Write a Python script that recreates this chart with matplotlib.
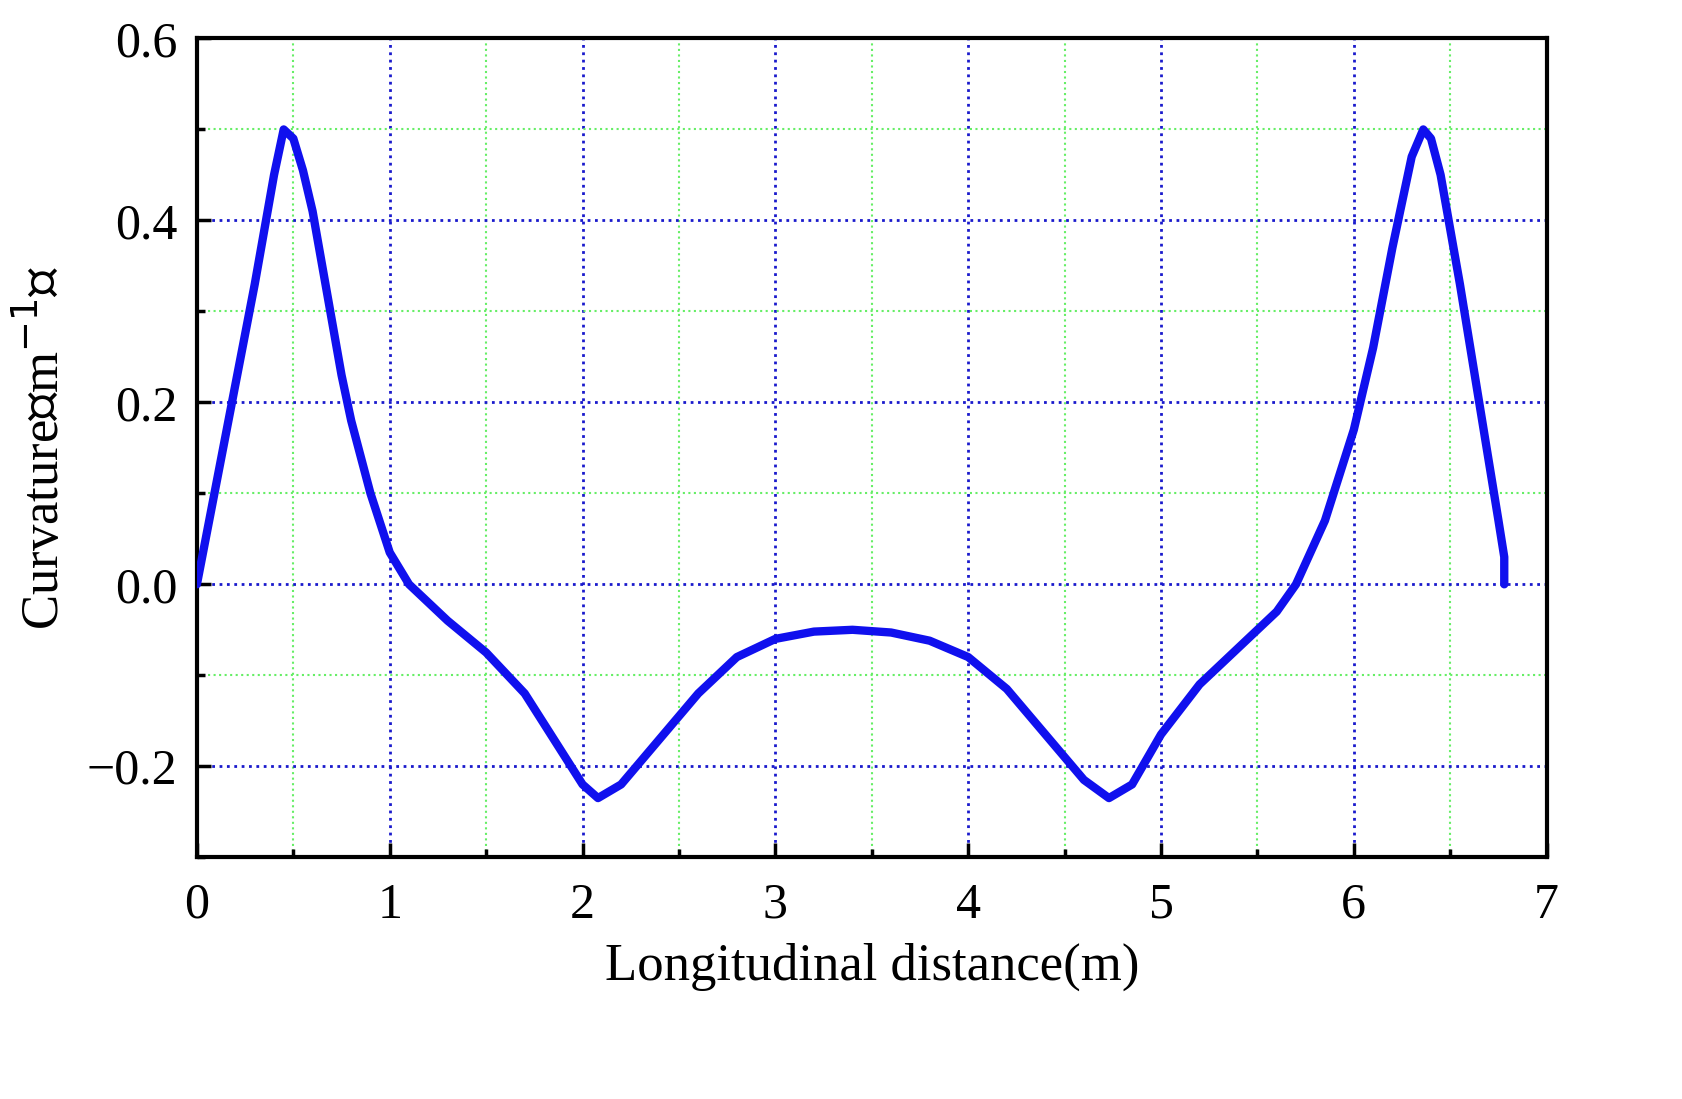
import matplotlib
matplotlib.use("Agg")
import matplotlib.pyplot as plt
from matplotlib.ticker import MultipleLocator

x = [0, 0.1, 0.2, 0.3, 0.4, 0.45, 0.5, 0.55, 0.6, 0.65, 0.7, 0.75, 0.8, 0.9, 1.0, 1.1, 1.2, 1.3, 1.5, 1.7,
     1.85, 2.0, 2.08, 2.2, 2.4, 2.6, 2.8, 3.0, 3.2, 3.4, 3.6, 3.8, 4.0, 4.2, 4.4, 4.6, 4.73, 4.85, 5.0,
     5.2, 5.4, 5.6, 5.7, 5.85, 6.0, 6.1, 6.2, 6.3, 6.36, 6.4, 6.45, 6.55, 6.65, 6.75, 6.78, 6.78]
y = [0, 0.11, 0.22, 0.33, 0.45, 0.5, 0.49, 0.455, 0.41, 0.35, 0.29, 0.23, 0.18, 0.1, 0.035, 0.0, -0.02,
     -0.04, -0.075, -0.12, -0.17, -0.22, -0.235, -0.22, -0.17, -0.12, -0.08, -0.06, -0.052, -0.05, -0.053,
     -0.062, -0.08, -0.115, -0.165, -0.215, -0.235, -0.22, -0.165, -0.11, -0.07, -0.03, 0.0, 0.07, 0.17,
     0.26, 0.37, 0.47, 0.5, 0.49, 0.45, 0.33, 0.2, 0.07, 0.03, 0.0]

plt.rcParams['font.family'] = ['Liberation Serif', 'Noto Sans CJK SC']
fig = plt.figure(figsize=(16.83, 10.99), dpi=100)
ax = fig.add_axes([0.117, 0.22, 0.802, 0.745])
ax.set_xlim(0, 7)
ax.set_ylim(-0.3, 0.6)
ax.xaxis.set_major_locator(MultipleLocator(1))
ax.xaxis.set_minor_locator(MultipleLocator(0.5))
ax.yaxis.set_major_locator(MultipleLocator(0.2))
ax.yaxis.set_minor_locator(MultipleLocator(0.1))
ax.grid(which='minor', color='#66ee66', linestyle=':', linewidth=1.5)
ax.grid(which='major', color='#1a1acc', linestyle=':', linewidth=2)
ax.set_axisbelow(True)
ax.plot(x, y, color='#1010ee', linewidth=6, solid_capstyle='round', solid_joinstyle='round', zorder=3)
for s in ax.spines.values():
    s.set_linewidth(3)
ax.tick_params(which='both', direction='in', width=2.5, labelsize=36, top=False, right=False)
ax.tick_params(which='major', length=10)
ax.tick_params(which='minor', length=6)
ax.tick_params(axis='x', pad=18)
ax.tick_params(axis='y', pad=14)
ax.yaxis.set_major_formatter(matplotlib.ticker.FuncFormatter(lambda v, p: f"{v:.1f}".replace('-', '\u2212')))
ax.set_xlabel('Longitudinal distance(m)', fontsize=38, labelpad=10)
ax.set_ylabel('Curvature\uff08m$^{-1}$\uff09', fontsize=38, labelpad=12)
fig.savefig('out.png', dpi=100)
